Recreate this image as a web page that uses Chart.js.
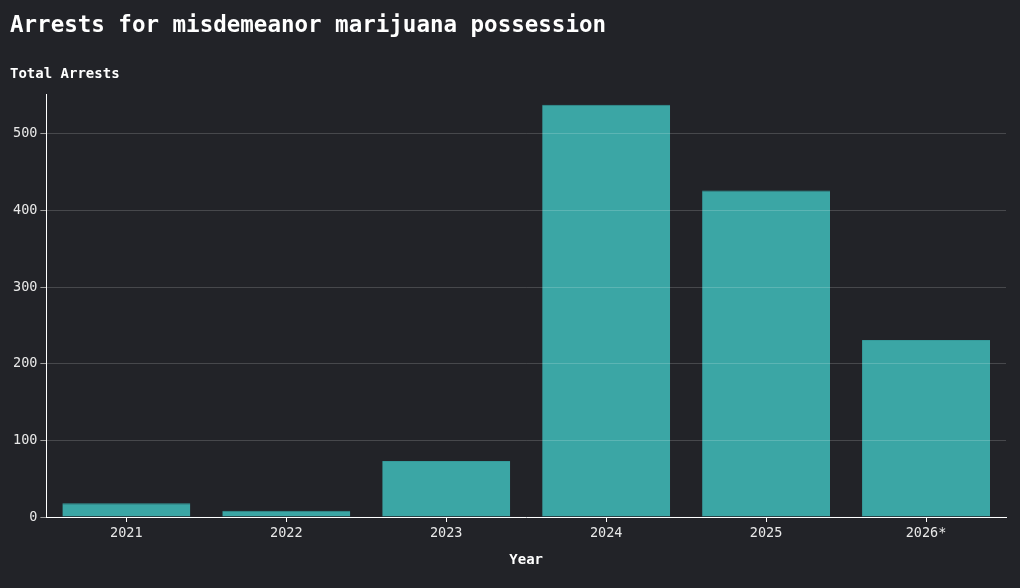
<!DOCTYPE html>
<html>
<head>
<meta charset="utf-8">
<script src="https://cdn.jsdelivr.net/npm/chart.js@4"></script>
<style>
  html, body { margin: 0; padding: 0; background: #222328; }
  #wrap { width: 1020px; height: 588px; position: relative; }
</style>
</head>
<body>
<div id="wrap"><canvas id="arrestsChart"></canvas></div>
<script>
const years = ['2021', '2022', '2023', '2024', '2025', '2026*'];
const arrests = [18, 8, 73, 538, 426, 231];
const yTicks = [0, 100, 200, 300, 400, 500];

const mono = "'DejaVu Sans Mono', 'Liberation Mono', monospace";

const ctx = document.getElementById('arrestsChart').getContext('2d');
window.arrestsChart = new Chart(ctx, {
    type: 'bar',
    data: {
        labels: years,
        datasets: [{
            label: 'Total Arrests',
            data: arrests,
            backgroundColor: 'rgba(61, 176, 175, 0.93)',
            borderColor: 'rgba(52, 155, 155, 1)',
            borderWidth: { top: 1, left: 0, right: 0, bottom: 0 },
            categoryPercentage: 1.0,
            barPercentage: 0.8
        }]
    },
    options: {
        responsive: true,
        maintainAspectRatio: false,
        animation: false,
        layout: { padding: { left: 10, right: 14, top: 0, bottom: 15 } },
        plugins: {
            legend: { display: false },
            tooltip: { enabled: false },
            title: {
                display: true,
                text: 'Arrests for misdemeanor marijuana possession',
                align: 'start',
                color: '#ffffff',
                font: { family: mono, size: 22.5, weight: 'bold' },
                padding: { top: 13, bottom: 26 }
            },
            subtitle: {
                display: true,
                text: 'Total Arrests',
                align: 'start',
                color: '#ffffff',
                font: { family: mono, size: 14, weight: 'bold' },
                padding: { top: 0, bottom: 12 }
            }
        },
        scales: {
            x: {
                grid: { display: true, offset: false, drawOnChartArea: false, drawTicks: true, tickLength: 5, tickColor: '#ffffff' },
                border: { display: true, color: '#ffffff', width: 1 },
                ticks: { color: '#e8e8e8', font: { family: mono, size: 13.5 }, padding: 3 },
                title: {
                    display: true,
                    text: 'Year',
                    color: '#ffffff',
                    font: { family: mono, size: 14, weight: 'bold' },
                    padding: { top: 8 }
                }
            },
            y: {
                min: 0,
                max: 551,
                afterBuildTicks: scale => { scale.ticks = yTicks.map(v => ({ value: v })); },
                grid: {
                    color: ctx => ctx.tick && ctx.tick.value === 0 ? 'rgba(0,0,0,0)' : 'rgba(255,255,255,0.17)',
                    tickColor: '#a0a0a0',
                    tickLength: 6,
                    z: 1
                },
                border: { display: true, color: '#ffffff', width: 1, z: 1 },
                ticks: { color: '#e8e8e8', font: { family: mono, size: 13.5 }, padding: 3 }
            }
        }
    }
});
</script>
</body>
</html>
